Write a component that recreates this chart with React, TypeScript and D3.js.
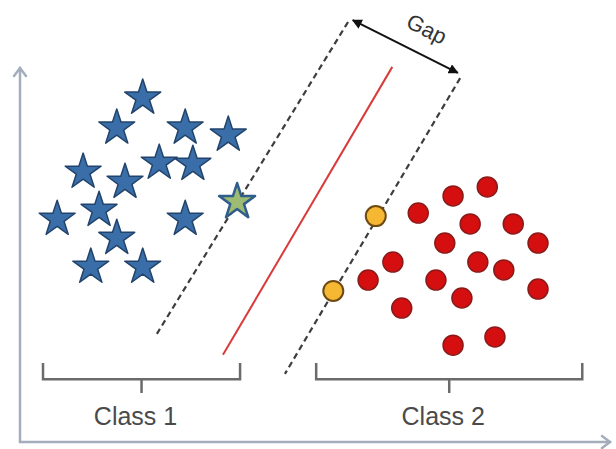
import React from 'react'
import * as d3 from 'd3'

// data in plot units (x: 0-100, y: 0-100)
const class1Stars: [number, number][] = [
  [20.8, 92.0], [16.4, 84.0], [28.0, 84.0], [35.3, 82.1],
  [10.7, 72.2], [17.8, 69.5], [23.6, 74.6], [29.3, 74.3],
  [6.3, 59.6], [13.4, 62.0], [28.0, 59.6], [16.4, 54.5],
  [12.0, 46.8], [20.8, 46.8]
]
const supportStars: [number, number][] = [[36.8, 64.2]]

const class2Dots: [number, number][] = [
  [79.2, 68.2], [73.4, 65.8], [67.5, 61.2], [76.3, 58.3], [83.6, 58.3],
  [72.0, 53.2], [87.8, 53.2], [63.2, 48.1], [77.6, 48.1], [82.0, 46.0],
  [59.0, 43.3], [70.5, 43.3], [74.9, 38.5], [87.8, 40.9], [64.7, 35.8],
  [73.4, 25.9], [80.5, 28.1]
]
const supportDots: [number, number][] = [[60.3, 60.4], [53.1, 40.4]]

const hyperplane: [number, number][] = [[63.1, 100.3], [34.4, 23.3]]
const marginLeft: [number, number][] = [[55.6, 112.3], [23.2, 28.9]]
const marginRight: [number, number][] = [[74.6, 97.3], [44.9, 18.2]]
const gapArrow: [number, number][] = [[56.4, 112.8], [74.2, 98.7]]
const gapLabel = { text: 'Gap', pos: [68.8, 110.0] as [number, number] }

const classNames = ['Class 1', 'Class 2']
const classRanges: [number, number][] = [[3.9, 37.3], [50.2, 95.3]]
const bracketY = 16.8
const bracketEndY = 21.1
const bracketTickY = 13.1
const labelY = 6.2

export default function App() {
  const width = 616
  const height = 449

  const x = d3.scaleLinear().domain([0, 100]).range([20, 610])
  const y = d3.scaleLinear().domain([0, 100]).range([442, 68])

  const line = d3.line<[number, number]>().x(d => x(d[0])).y(d => y(d[1]))
  const star = d3.symbol().type(d3.symbolStar).size(400)()

  const [ga, gb] = gapArrow
  const angle = (Math.atan2(y(gb[1]) - y(ga[1]), x(gb[0]) - x(ga[0])) * 180) / Math.PI

  const axisColor = '#a3adbb'

  return (
    <svg width={width} height={height} style={{ position: 'absolute', left: 0, top: 0, background: '#fff' }}>
      <defs>
        <marker id="head" viewBox="0 0 10 10" refX="9" refY="5" markerWidth="5" markerHeight="5" orient="auto-start-reverse">
          <path d="M0,0 L10,5 L0,10 z" fill="#111" />
        </marker>
      </defs>

      {/* axes */}
      <g stroke={axisColor} strokeWidth={2.5} fill="none" strokeLinecap="round">
        <line x1={x(0)} y1={y(0)} x2={x(0)} y2={y(100)} />
        <line x1={x(0)} y1={y(0)} x2={x(100)} y2={y(0)} />
        <path d={`M${x(0) - 6},${y(100) + 8} L${x(0)},${y(100)} L${x(0) + 6},${y(100) + 8}`} />
        <path d={`M${x(100) - 8},${y(0) - 6} L${x(100)},${y(0)} L${x(100) - 8},${y(0) + 6}`} />
      </g>

      {/* margins and hyperplane */}
      <path d={line(marginLeft) || ''} stroke="#3d3d3d" strokeWidth={2.2} strokeDasharray="6,4" fill="none" />
      <path d={line(marginRight) || ''} stroke="#3d3d3d" strokeWidth={2.2} strokeDasharray="6,4" fill="none" />
      <path d={line(hyperplane) || ''} stroke="#d93a3a" strokeWidth={2} fill="none" />

      {/* gap arrow */}
      <path
        d={line(gapArrow) || ''}
        stroke="#111"
        strokeWidth={2}
        fill="none"
        markerStart="url(#head)"
        markerEnd="url(#head)"
      />
      <text
        x={x(gapLabel.pos[0])}
        y={y(gapLabel.pos[1])}
        transform={`rotate(${angle}, ${x(gapLabel.pos[0])}, ${y(gapLabel.pos[1])})`}
        textAnchor="middle"
        dominantBaseline="middle"
        fontFamily="Liberation Sans, Arial, sans-serif"
        fontSize={22}
        fill="#333"
      >
        {gapLabel.text}
      </text>

      {/* class 1 stars */}
      {class1Stars.map((d, i) => (
        <path key={'s' + i} d={star || ''} transform={`translate(${x(d[0])},${y(d[1])})`}
          fill="#3a6ea8" stroke="#22446c" strokeWidth={1.5} strokeLinejoin="round" />
      ))}
      {supportStars.map((d, i) => (
        <path key={'ss' + i} d={star || ''} transform={`translate(${x(d[0])},${y(d[1])})`}
          fill="#9dbb72" stroke="#2f5d8c" strokeWidth={2.5} strokeLinejoin="round" />
      ))}

      {/* class 2 dots */}
      {class2Dots.map((d, i) => (
        <circle key={'c' + i} cx={x(d[0])} cy={y(d[1])} r={10} fill="#d50f0f" stroke="#8a1a1a" strokeWidth={1.5} />
      ))}
      {supportDots.map((d, i) => (
        <circle key={'sc' + i} cx={x(d[0])} cy={y(d[1])} r={10} fill="#f6b832" stroke="#6e4a12" strokeWidth={2} />
      ))}

      {/* brackets */}
      {classRanges.map((r, i) => {
        const x0 = x(r[0])
        const x1 = x(r[1])
        const xm = (x0 + x1) / 2
        return (
          <g key={'b' + i}>
            <path
              d={`M${x0},${y(bracketEndY)} L${x0},${y(bracketY)} L${x1},${y(bracketY)} L${x1},${y(bracketEndY)} M${xm},${y(bracketY)} L${xm},${y(bracketTickY)}`}
              stroke="#6b6b6b"
              strokeWidth={2.5}
              fill="none"
            />
            <text
              x={xm - 6}
              y={y(labelY)}
              textAnchor="middle"
              dominantBaseline="middle"
              fontFamily="Liberation Sans, Arial, sans-serif"
              fontSize={25}
              fill="#4a4a4a"
            >
              {classNames[i]}
            </text>
          </g>
        )
      })}
    </svg>
  )
}
